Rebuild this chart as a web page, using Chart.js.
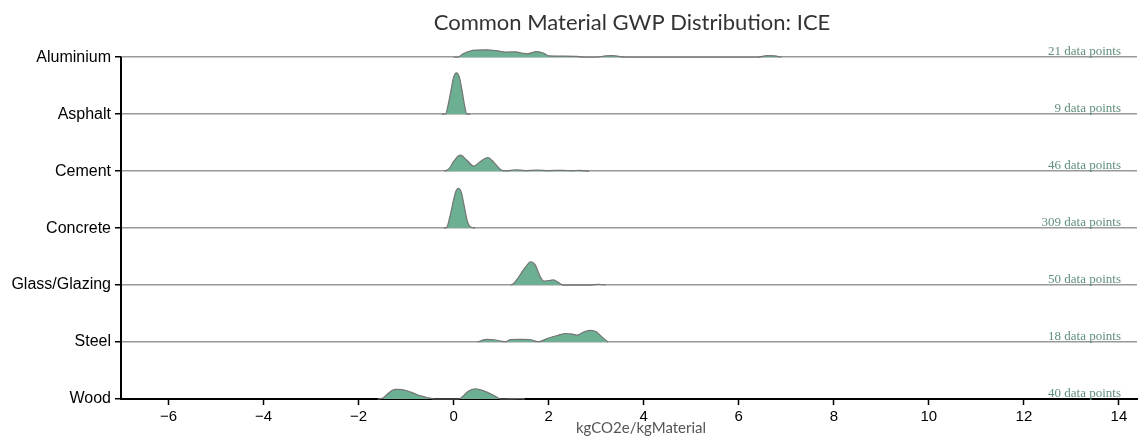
<!DOCTYPE html>
<html>
<head>
<meta charset="UTF-8">
<title>Common Material GWP Distribution: ICE</title>
<script src="https://cdn.jsdelivr.net/npm/chart.js"></script>
<style>
  body { margin: 0; background: #fff; }
  #wrap { width: 1146px; height: 443px; }
</style>
</head>
<body>
<div id="wrap"><canvas id="ridge" width="1146" height="443"></canvas></div>
<script>
// materials, top to bottom
const materials = ['Aluminium', 'Asphalt', 'Cement', 'Concrete', 'Glass/Glazing', 'Steel', 'Wood'];
const pointCounts = [21, 9, 46, 309, 50, 18, 40];
const xTicks = [-6, -4, -2, 0, 2, 4, 6, 8, 10, 12, 14];

// density curves (x in kgCO2e/kg, height in row units)
const aluminiumX = [0.0, 0.08, 0.2, 0.35, 0.5, 0.7, 0.9, 1.1, 1.3, 1.45, 1.55, 1.75, 1.9, 2.0, 2.3, 2.6, 2.75, 3.0, 3.2, 3.35, 3.5, 3.6, 6.4, 6.6, 6.75, 6.9];
const aluminiumH = [0, 0, 0.06, 0.11, 0.125, 0.13, 0.115, 0.09, 0.095, 0.07, 0.06, 0.1, 0.07, 0.025, 0.02, 0.015, 0, 0, 0.025, 0.03, 0.01, 0, 0, 0.03, 0.025, 0];

const asphaltX = [-0.25, -0.17, -0.12, -0.06, 0.0, 0.06, 0.12, 0.18, 0.23, 0.28, 0.35];
const asphaltH = [0, 0, 0.15, 0.4, 0.65, 0.726, 0.65, 0.4, 0.15, 0, 0];

const cementX = [-0.2, -0.1, 0.0, 0.14, 0.28, 0.42, 0.58, 0.72, 0.85, 1.0, 1.1, 1.3, 1.5, 1.75, 2.0, 2.3, 2.5, 2.65, 2.85];
const cementH = [0, 0.04, 0.17, 0.28, 0.19, 0.09, 0.18, 0.24, 0.15, 0.02, 0.005, 0.025, 0.01, 0.02, 0.01, 0.015, 0.008, 0.015, 0];

const concreteX = [-0.2, -0.15, -0.08, 0.0, 0.05, 0.1, 0.16, 0.22, 0.28, 0.34, 0.45];
const concreteH = [0, 0.01, 0.2, 0.5, 0.65, 0.7, 0.63, 0.4, 0.15, 0.03, 0];

const glassX = [1.2, 1.25, 1.35, 1.5, 1.62, 1.72, 1.82, 1.9, 2.0, 2.1, 2.2, 2.3, 2.9, 3.05, 3.2];
const glassH = [0, 0.02, 0.12, 0.3, 0.41, 0.35, 0.15, 0.07, 0.08, 0.09, 0.05, 0, 0, 0.015, 0];

const steelX = [0.5, 0.6, 0.7, 0.85, 1.0, 1.1, 1.2, 1.4, 1.6, 1.7, 1.78, 2.0, 2.2, 2.35, 2.5, 2.6, 2.75, 2.88, 3.0, 3.12, 3.25];
const steelH = [0, 0.03, 0.047, 0.04, 0.015, 0.005, 0.045, 0.048, 0.045, 0.02, 0.005, 0.07, 0.12, 0.15, 0.14, 0.12, 0.18, 0.205, 0.18, 0.09, 0];

const woodX = [-1.6, -1.5, -1.4, -1.3, -1.2, -1.1, -1.0, -0.9, -0.75, -0.6, -0.5, -0.4, 0.1, 0.2, 0.3, 0.45, 0.55, 0.7, 0.85, 0.97, 1.05, 1.4, 1.5];
const woodH = [0, 0.01, 0.08, 0.15, 0.17, 0.165, 0.15, 0.12, 0.07, 0.035, 0.015, 0, 0, 0.05, 0.13, 0.18, 0.165, 0.12, 0.06, 0.005, 0, 0.004, 0];

const curves = [
  [aluminiumX, aluminiumH], [asphaltX, asphaltH], [cementX, cementH],
  [concreteX, concreteH], [glassX, glassH], [steelX, steelH], [woodX, woodH]
];

const nRows = materials.length;
const rowTicks = materials.map((m, i) => i);
const datasets = curves.map(([xs, hs], i) => {
  const row = nRows - 1 - i;
  return {
    label: materials[i],
    data: xs.map((x, k) => ({ x: x, y: row + hs[k] })),
    fill: { value: row },
    backgroundColor: '#6caf92',
    borderColor: '#747474',
    borderWidth: 1.2,
    pointRadius: 0,
    cubicInterpolationMode: 'monotone',
    clip: false
  };
});

// y axis line (only from top row to bottom row), title, axis label and point counts
const textPlugin = {
  id: 'ridgeText',
  afterDraw(chart) {
    const ctx = chart.ctx;
    const area = chart.chartArea;
    const xs = chart.scales.x, ys = chart.scales.y;
    ctx.save();
    ctx.strokeStyle = '#000';
    ctx.lineWidth = 2;
    ctx.beginPath();
    ctx.moveTo(area.left, ys.getPixelForValue(nRows - 1) - 0.5);
    ctx.lineTo(area.left, ys.getPixelForValue(0) + 1);
    ctx.stroke();

    ctx.fillStyle = '#333';
    ctx.font = '22px Lato';
    ctx.textAlign = 'center';
    ctx.textBaseline = 'alphabetic';
    ctx.fillText('Common Material GWP Distribution: ICE', (area.left + area.right) / 2 + 3, 30);

    ctx.fillStyle = '#555';
    ctx.font = '15px Lato';
    ctx.fillText('kgCO2e/kgMaterial', (area.left + area.right) / 2 + 12, 433);

    ctx.fillStyle = '#5f8f7a';
    ctx.font = '13px "Liberation Serif"';
    ctx.textAlign = 'right';
    pointCounts.forEach((n, i) => {
      const py = ys.getPixelForValue(nRows - 1 - i);
      ctx.fillText(n + ' data points', xs.getPixelForValue(14) + 2, py - 2);
    });
    ctx.restore();
  }
};

new Chart(document.getElementById('ridge'), {
  type: 'line',
  data: { datasets: datasets },
  options: {
    responsive: false,
    animation: false,
    layout: { padding: { top: 43, right: 9, left: 0, bottom: 0 } },
    plugins: {
      legend: { display: false },
      tooltip: { enabled: false },
      title: { display: false }
    },
    scales: {
      x: {
        type: 'linear',
        min: -7,
        max: 14.38,
        afterBuildTicks: s => { s.ticks = xTicks.map(v => ({ value: v })); },
        afterFit: s => { s.height = 44; },
        grid: { drawOnChartArea: false, drawTicks: true, tickLength: 6, tickColor: '#000', tickWidth: 1.5 },
        border: { color: '#000', width: 2 },
        ticks: {
          color: '#000',
          font: { family: 'Liberation Sans', size: 15 },
          padding: 3,
          maxRotation: 0,
          callback: v => String(v).replace('-', '\u2212')
        }
      },
      y: {
        type: 'linear',
        min: 0,
        max: nRows - 0.75,
        afterBuildTicks: s => { s.ticks = rowTicks.map(v => ({ value: v })); },
        afterFit: s => { s.width = 121; },
        grid: { color: '#999', lineWidth: 1.5, tickLength: 6, tickColor: '#000', tickWidth: 1.5 },
        border: { display: false },
        ticks: {
          color: '#000',
          font: { family: 'Liberation Sans', size: 16 },
          padding: 4,
          callback: v => materials[nRows - 1 - v]
        }
      }
    }
  },
  plugins: [textPlugin]
});
</script>
</body>
</html>
